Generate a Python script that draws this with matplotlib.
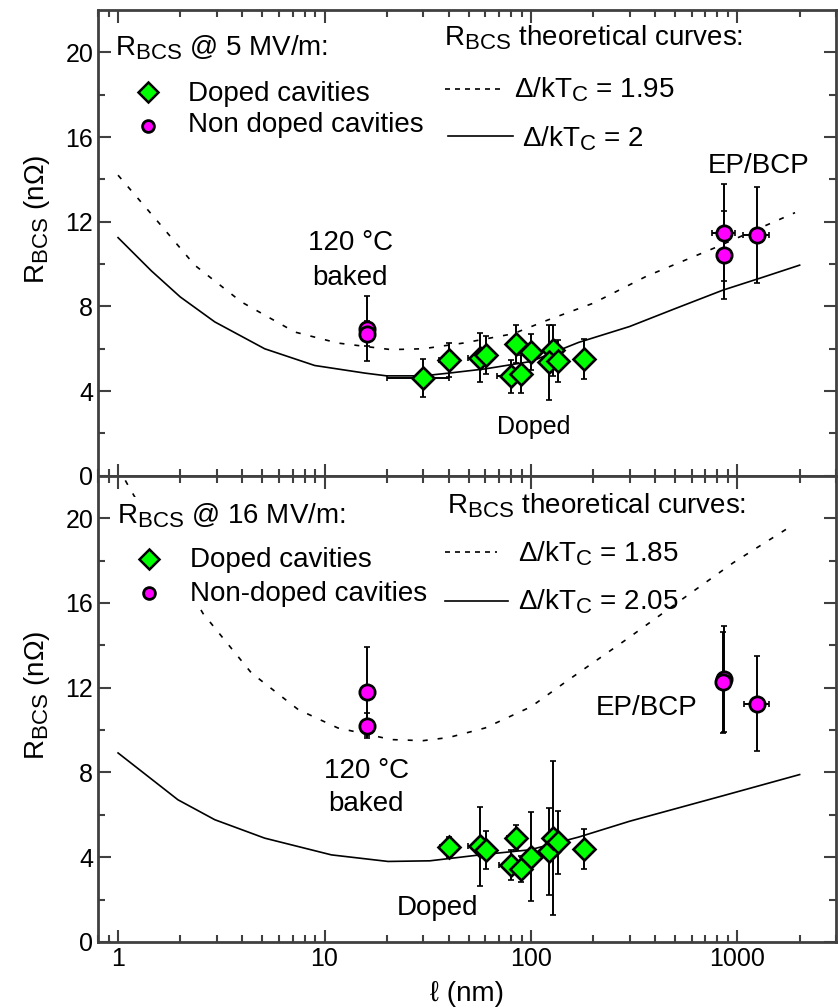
import numpy as np
import matplotlib
matplotlib.use('Agg')
import matplotlib.pyplot as plt
from matplotlib.ticker import FixedLocator, NullFormatter, LogLocator
from matplotlib.patches import Rectangle

plt.rcParams['font.family'] = ['Liberation Sans', 'DejaVu Sans']
plt.rcParams['mathtext.fontset'] = 'custom'
plt.rcParams['mathtext.rm'] = 'Liberation Sans'
plt.rcParams['mathtext.it'] = 'Liberation Sans:italic'
try:
    # Origin-style subscripts are only a little smaller than the body text
    import matplotlib._mathtext as _mt
    _mt.SHRINK_FACTOR = 0.8
except Exception:
    pass

# ── data: 5 MV/m ─────────────────────────────────────────────────────────────
x5_dop = [30, 40, 56.6, 60.5, 84.6, 79.8, 89.4, 99.6, 128, 122, 134.6, 181]
y5_dop = [4.63, 5.45, 5.58, 5.72, 6.24, 4.69, 4.79, 5.84, 5.92, 5.37, 5.42, 5.53]
ye5_dop = [0.9, 0.8, 1.15, 0.9, 0.9, 0.8, 0.9, 0.85, 1.2, 1.77, 1.0, 0.95]
xe5_dop = [10, 4, 7, 6, 5, 11, 5, 6, 8, 8, 8, 6]

x5_non = [16, 16, 860, 860, 1248]
y5_non = [6.95, 6.71, 11.48, 10.43, 11.37]
ye5_non = [1.55, 0.6, 2.3, 2.1, 2.27]
xe5_non = [0.5, 0.5, 110, 60, 180]

x5_th = [1, 1.45, 2, 2.94, 5.13, 8.96, 15.7, 20, 30, 40, 60, 100, 170, 300, 500, 850, 1300, 2000]
y5_th2 = [11.25, 9.68, 8.45, 7.27, 6.0, 5.21, 4.85, 4.72, 4.72, 4.85, 5.05, 5.4, 6.3, 7.05, 7.9, 8.77, 9.35, 9.95]
x5_th195 = [1, 1.56, 2.35, 3.96, 7.18, 11.6, 21, 30, 47, 82, 120, 200, 363, 764, 1900]
y5_th195 = [14.2, 12.0, 9.95, 8.21, 6.79, 6.27, 5.96, 6.0, 6.27, 6.71, 7.35, 8.15, 9.43, 10.74, 12.43]

# ── data: 16 MV/m ────────────────────────────────────────────────────────────
x16_dop = [40.1, 56.6, 60.5, 84.6, 79.8, 89.4, 99.6, 122, 128, 134.6, 181]
y16_dop = [4.46, 4.51, 4.35, 4.93, 3.64, 3.44, 4.03, 4.27, 4.9, 4.7, 4.38]
ye16_dop = [0.5, 1.85, 0.9, 0.6, 0.7, 0.6, 2.08, 2.05, 3.65, 1.5, 0.95]
xe16_dop = [4, 7, 6, 8, 10, 5, 6, 8, 8, 8, 6]

x16_non = [16, 16, 860, 850, 1250]
y16_non = [11.8, 10.21, 12.39, 12.25, 11.25]
ye16_non = [2.1, 0.6, 2.5, 2.4, 2.26]
xe16_non = [0.5, 0.5, 60, 60, 170]

x16_th205 = [1, 1.95, 2.94, 5.13, 10.8, 20.3, 32.4, 56.6, 99, 170, 301, 850, 2000]
y16_th205 = [8.92, 6.71, 5.77, 4.9, 4.11, 3.8, 3.83, 4.11, 4.35, 4.95, 5.7, 6.9, 7.9]
x16_th185 = [1, 1.14, 2.58, 4.42, 7.45, 11.6, 21.1, 30, 40, 60, 100, 149, 290, 568, 955, 1830]
y16_th185 = [22.4, 21.4, 15.5, 12.7, 10.97, 10.1, 9.55, 9.5, 9.65, 10.1, 11.1, 12.31, 14.28, 16.33, 17.9, 19.64]

GREEN = "#00ff00"
MAGENTA = "#ff00ff"
SPINE = "#404040"
FS = 20
W, H = 838, 1008

fig = plt.figure(figsize=(W / 100, H / 100), dpi=100)
ax1 = fig.add_axes([0.117, 0.528, 0.8806, 0.462])
ax2 = fig.add_axes([0.117, 0.0655, 0.8806, 0.4625])
TF = fig.transFigure


def P(px, py):
    # pixel position (from top-left) -> figure fraction
    return px / W, 1 - py / H


def style(ax, xlabels, ylab_y):
    ax.set_xscale("log")
    ax.set_xlim(0.8, 3000)
    ax.set_ylim(0, 22)
    ax.yaxis.set_major_locator(FixedLocator([0, 4, 8, 12, 16, 20]))
    ax.yaxis.set_minor_locator(FixedLocator([2, 6, 10, 14, 18]))
    ax.xaxis.set_major_locator(FixedLocator([1, 10, 100, 1000]))
    ax.xaxis.set_minor_locator(LogLocator(base=10, subs=np.arange(2, 10), numticks=20))
    ax.xaxis.set_minor_formatter(NullFormatter())
    ax.tick_params(which="both", direction="in", top=True, right=True,
                   color=SPINE, width=1.5, labelsize=18)
    ax.tick_params(which="major", length=9)
    ax.tick_params(which="minor", length=5)
    if xlabels:
        ax.set_xticklabels(["1", "10", "100", "1000"])
    else:
        ax.set_xticklabels([])
    for s in ax.spines.values():
        s.set_color(SPINE)
        s.set_linewidth(2)
    ax.set_ylabel(r"R$_{\mathrm{BCS}}$ (n$\Omega$)", fontsize=FS)
    ax.yaxis.set_label_coords(-0.062, ylab_y)


def draw(ax, xd, yd, yed, xed, xn, yn, yen, xen):
    for xs, ys, ye, xe in [(xd, yd, yed, xed), (xn, yn, yen, xen)]:
        ax.errorbar(xs, ys, yerr=ye, xerr=xe, fmt="none", ecolor="black",
                    elinewidth=1.4, capsize=2, capthick=1.2, zorder=3)
    ax.plot(xd, yd, "D", ms=11, mfc=GREEN, mec="black", mew=1.9, ls="none", zorder=4)
    ax.plot(xn, yn, "o", ms=11, mfc=MAGENTA, mec="black", mew=2, ls="none", zorder=5)


def text(ax, px, py, s, **kw):
    ax.text(*P(px, py), s, transform=TF, fontsize=kw.pop("fontsize", FS),
            va="baseline", ha="left", zorder=6, **kw)


def sample(ax, px0, px1, py, **kw):
    (x0, y0), (x1, _) = P(px0, py), P(px1, py)
    ax.plot([x0, x1], [y0, y0], color="black", lw=1.2, transform=TF, clip_on=False, **kw)


def marker(ax, px, py, **kw):
    ax.plot(*P(px, py), transform=TF, clip_on=False, mec="black", zorder=7, **kw)


# ── top panel: 5 MV/m ────────────────────────────────────────────────────────
style(ax1, False, 0.55)
ax1.plot(x5_th, y5_th2, color="black", lw=1.2, zorder=2)
ax1.plot(x5_th195, y5_th195, color="black", lw=1.2, ls=(0, (3, 6)), zorder=2)
draw(ax1, x5_dop, y5_dop, ye5_dop, xe5_dop, x5_non, y5_non, ye5_non, xe5_non)

text(ax1, 115, 55, r"R$_{\mathrm{BCS}}$ @ 5 MV/m:")
marker(ax1, 148, 91.7, marker="D", ms=10.5, mfc=GREEN, mew=1.8)
text(ax1, 188, 101, "Doped cavities")
marker(ax1, 148, 126, marker="o", ms=8.5, mfc=MAGENTA, mew=2)
text(ax1, 188, 131.7, "Non doped cavities")
text(ax1, 444, 46, r"R$_{\mathrm{BCS}}$ theoretical curves:")
sample(ax1, 445, 505, 88.5, ls=(0, (3, 3)))
text(ax1, 514, 98, r"$\Delta$/kT$_{\mathrm{C}}$ = 1.95")
sample(ax1, 448, 513, 136)
text(ax1, 522, 146.7, r"$\Delta$/kT$_{\mathrm{C}}$ = 2")

ax1.text(13.3, 10.66, "120 \u00b0C", fontsize=FS, ha="center", va="baseline")
ax1.text(13.3, 9.0, "baked", fontsize=FS, ha="center", va="baseline")
ax1.text(1271, 14.3, "EP/BCP", fontsize=FS, ha="center", va="baseline")
ax1.text(103.4, 1.98, "Doped", fontsize=18, ha="center", va="baseline")

# ── bottom panel: 16 MV/m ────────────────────────────────────────────────────
style(ax2, True, 0.53)
ax2.plot(x16_th205, y16_th205, color="black", lw=1.2, zorder=2)
ax2.plot(x16_th185, y16_th185, color="black", lw=1.2, ls=(0, (3, 6)), zorder=2)
draw(ax2, x16_dop, y16_dop, ye16_dop, xe16_dop, x16_non, y16_non, ye16_non, xe16_non)

# legend block has an opaque background that hides the dashed curve
bx0, by1 = P(110, 497)
bx1, by0 = P(432, 608)
ax2.add_patch(Rectangle((bx0, by0), bx1 - bx0, by1 - by0, transform=TF,
                        facecolor="white", edgecolor="none", zorder=2.2))
text(ax2, 117, 523.3, r"R$_{\mathrm{BCS}}$ @ 16 MV/m:")
marker(ax2, 149.3, 559, marker="D", ms=10.5, mfc=GREEN, mew=1.8)
text(ax2, 190, 567.3, "Doped cavities")
marker(ax2, 149.3, 593.3, marker="o", ms=8.5, mfc=MAGENTA, mew=2)
text(ax2, 190, 600.7, "Non-doped cavities")
text(ax2, 446.7, 513.3, r"R$_{\mathrm{BCS}}$ theoretical curves:")
sample(ax2, 445, 497, 551.7, ls=(0, (3, 3)))
text(ax2, 518, 561, r"$\Delta$/kT$_{\mathrm{C}}$ = 1.85")
sample(ax2, 445, 508, 600.7)
text(ax2, 518, 609.3, r"$\Delta$/kT$_{\mathrm{C}}$ = 2.05")

ax2.text(15.9, 7.74, "120 \u00b0C", fontsize=FS, ha="center", va="baseline")
ax2.text(15.9, 6.16, "baked", fontsize=FS, ha="center", va="baseline")
ax2.text(363, 10.73, "EP/BCP", fontsize=FS, ha="center", va="baseline")
ax2.text(35.3, 1.28, "Doped", fontsize=FS, ha="center", va="baseline")
ax2.set_xlabel("\u2113 (nm)", fontsize=FS, labelpad=7)

fig.savefig("out.png", dpi=100)
